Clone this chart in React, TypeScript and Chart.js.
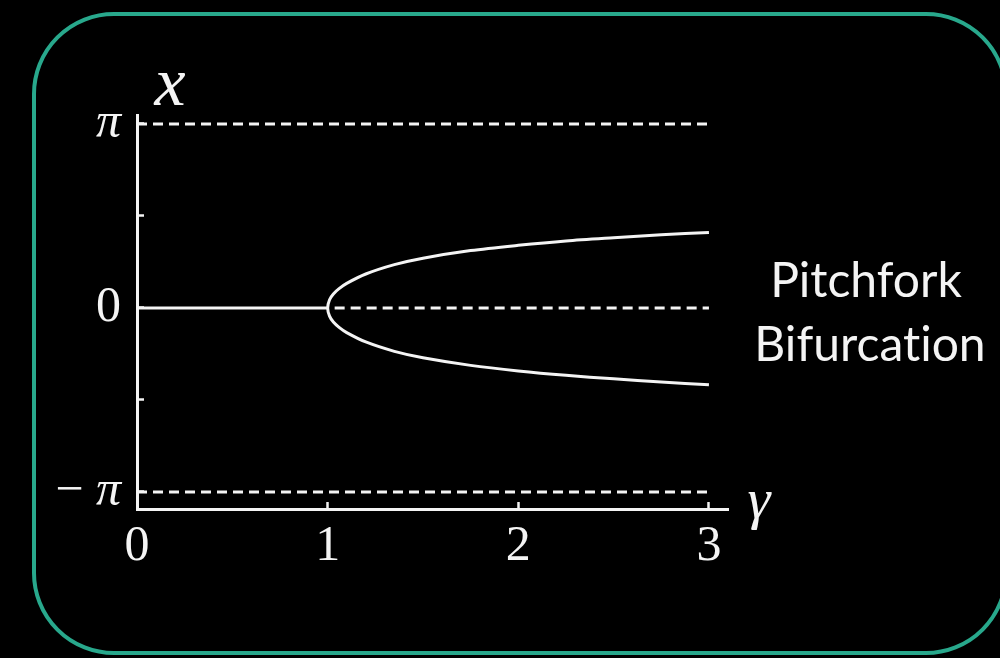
import { useEffect, useRef } from 'react';
import { Chart, registerables } from 'chart.js';

Chart.register(...registerables);

const PI = Math.PI;

// Parameter γ along the horizontal axis
const gammaStart = 0;
const gammaFork = 1;
const gammaEnd = 3;

// Equilibria x* born at the fork, sampled along γ
const branchGamma = [1.0, 1.01, 1.03, 1.06, 1.1, 1.2, 1.35, 1.5, 1.75, 2.0, 2.25, 2.5, 2.75, 3.0];
const upperBranch = [0, 0.14, 0.24, 0.33, 0.42, 0.58, 0.74, 0.85, 0.98, 1.07, 1.145, 1.2, 1.25, 1.29];
const lowerBranch = [0, -0.14, -0.24, -0.33, -0.42, -0.58, -0.74, -0.85, -0.98, -1.075, -1.15, -1.21, -1.265, -1.31];

// Axis ticks
const xTickValues = [0, 1, 2, 3];
const xTickLabels = ['0', '1', '2', '3'];
const yTickValues = [-PI, -PI / 2, 0, PI / 2, PI];
const yTickLabels = ['−\u2009π', '', '0', '', 'π'];

const INK = '#f4f4f4';
const FRAME = '#28a88c';
const SERIF = '"Liberation Serif", "DejaVu Serif", serif';

const lookup = (values: number[], labels: string[], v: number) => {
  const i = values.findIndex((t) => Math.abs(t - v) < 1e-6);
  return i >= 0 ? labels[i] : '';
};

const annotate = {
  id: 'annotate',
  afterDraw(chart: any) {
    const { ctx, chartArea } = chart;
    ctx.save();
    ctx.fillStyle = INK;
    ctx.textAlign = 'center';
    ctx.textBaseline = 'alphabetic';
    ctx.font = `italic 70px ${SERIF}`;
    ctx.fillText('x', chartArea.left + 33, chartArea.top - 10);
    ctx.font = `italic 58px ${SERIF}`;
    ctx.fillText('γ', chartArea.right + 31, chartArea.bottom + 9);
    ctx.font = '48px Lato';
    ctx.fillText('Pitchfork', 866, 297);
    ctx.fillText('Bifurcat\u200Cion', 870, 361);
    ctx.restore();
  },
};

export default function App() {
  const canvasRef = useRef<HTMLCanvasElement | null>(null);

  useEffect(() => {
    const canvas = canvasRef.current;
    if (!canvas) return;

    // one continuous path: upper branch inward to the fork, then the lower branch outward
    const forkPath = [
      ...branchGamma.map((g, i) => ({ x: g, y: upperBranch[i] })).reverse(),
      ...branchGamma.slice(1).map((g, i) => ({ x: g, y: lowerBranch[i + 1] })),
    ];

    const dashed = {
      showLine: true,
      borderColor: INK,
      borderWidth: 3,
      borderDash: [10, 6],
      pointRadius: 0,
      fill: false,
    };

    const chart = new Chart(canvas, {
      type: 'scatter',
      data: {
        datasets: [
          {
            label: 'stable',
            data: [
              { x: gammaStart, y: 0 },
              { x: gammaFork, y: 0 },
            ],
            showLine: true,
            borderColor: INK,
            borderWidth: 3,
            pointRadius: 0,
          },
          {
            label: 'unstable',
            data: [
              { x: gammaFork, y: 0 },
              { x: gammaEnd, y: 0 },
            ],
            ...dashed,
            borderDashOffset: 9,
          },
          {
            label: 'x = π',
            data: [
              { x: gammaStart, y: PI },
              { x: gammaEnd, y: PI },
            ],
            ...dashed,
          },
          {
            label: 'x = −π',
            data: [
              { x: gammaStart, y: -PI },
              { x: gammaEnd, y: -PI },
            ],
            ...dashed,
          },
          {
            label: 'branches',
            data: forkPath,
            showLine: true,
            borderColor: INK,
            borderWidth: 3,
            pointRadius: 0,
            tension: 0.3,
          },
        ],
      },
      options: {
        responsive: false,
        animation: false,
        events: [],
        layout: { padding: { top: 115, right: 272, left: 0, bottom: 0 } },
        plugins: { legend: { display: false }, tooltip: { enabled: false } },
        scales: {
          x: {
            type: 'linear',
            min: 0,
            max: 3.1,
            afterFit: (s: any) => {
              s.height = 149;
            },
            afterBuildTicks: (s: any) => {
              s.ticks = xTickValues.map((v) => ({ value: v }));
            },
            ticks: {
              color: INK,
              font: { family: SERIF, size: 50 },
              padding: 15,
              maxRotation: 0,
              autoSkip: false,
              callback: (v: any) => lookup(xTickValues, xTickLabels, Number(v)),
            },
            grid: {
              drawOnChartArea: false,
              drawTicks: true,
              tickLength: -7,
              tickColor: INK,
              tickWidth: 2.5,
            },
            border: { display: true, color: INK, width: 3 },
          },
          y: {
            type: 'linear',
            min: -3.432,
            max: 3.295,
            afterFit: (s: any) => {
              s.width = 137;
            },
            afterBuildTicks: (s: any) => {
              s.ticks = yTickValues.map((v) => ({ value: v }));
            },
            ticks: {
              color: INK,
              font: (c: any) => ({
                family: SERIF,
                size: 50,
                style: c.tick && Math.abs(c.tick.value) > 1e-6 ? 'italic' : 'normal',
              }),
              padding: 23,
              autoSkip: false,
              callback: (v: any) => lookup(yTickValues, yTickLabels, Number(v)),
            },
            grid: {
              drawOnChartArea: false,
              drawTicks: true,
              tickLength: -7,
              tickColor: INK,
              tickWidth: 2.5,
            },
            border: { display: true, color: INK, width: 3 },
          },
        },
      },
      plugins: [annotate],
    });

    let alive = true;
    document.fonts?.ready.then(() => {
      if (alive) chart.update();
    });

    return () => {
      alive = false;
      chart.destroy();
    };
  }, []);

  return (
    <div
      style={{
        position: 'fixed',
        left: 0,
        top: 0,
        width: 1000,
        height: 658,
        background: '#000',
        overflow: 'hidden',
      }}
    >
      <div
        style={{
          position: 'absolute',
          left: 32,
          top: 12,
          width: 976,
          height: 643,
          boxSizing: 'border-box',
          border: `4px solid ${FRAME}`,
          borderRadius: 82,
        }}
      />
      <canvas
        ref={canvasRef}
        width={1000}
        height={658}
        style={{ position: 'absolute', left: 0, top: 0, width: 1000, height: 658 }}
      />
    </div>
  );
}
